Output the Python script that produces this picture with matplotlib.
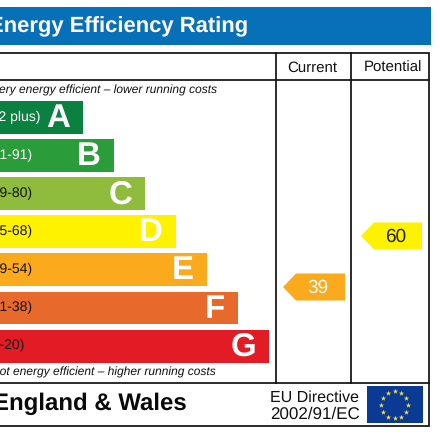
import numpy as np
import matplotlib
matplotlib.use("Agg")
import matplotlib.pyplot as plt
from matplotlib.patches import Polygon, Rectangle

letters = ["A", "B", "C", "D", "E", "F", "G"]
ranges = ["(92 plus)", "(81-91)", "(69-80)", "(55-68)", "(39-54)", "(21-38)", "(1-20)"]
bar_ends = [83, 114, 145, 176, 207, 238, 269]
range_ends = [40, 32, 32, 32, 32, 32, 24]
bar_colors = ["#0b8040", "#2a9c39", "#8fbc3d", "#fff200", "#fbaa1d", "#e8692c", "#e31b24"]
range_colors = ["white", "white", "#111111", "#111111", "#111111", "#111111", "#111111"]
current_value = 39
potential_value = 60

plt.rcParams["font.family"] = ["Liberation Sans", "DejaVu Sans"]
plt.rcParams["text.hinting"] = "no_hinting"
plt.rcParams["text.hinting_factor"] = 1
fig = plt.figure(figsize=(4.4, 4.4), dpi=100, facecolor="white")
ax = fig.add_axes([0, 0, 1, 1])
ax.set_xlim(0, 440)
ax.set_ylim(440, 0)
ax.axis("off")

# Header
ax.add_patch(Rectangle((0, 7), 431, 38, fc="#0870b8", ec="none"))
ax.text(248, 27, "Energy Efficiency Rating", color="white", fontsize=15.6,
        fontweight="bold", ha="right", va="center")

# Frame
lw = 1.25
col = "#111111"
ax.plot([-5, 428.7, 428.7, -5], [53, 53, 426.5, 426.5], color=col, lw=lw, solid_joinstyle="miter")
ax.plot([-5, 428.7], [80, 80], color=col, lw=lw)
ax.plot([-5, 428.7], [383, 383], color=col, lw=lw)
for x in (276, 351):
    ax.plot([x, x], [53, 383], color=col, lw=lw)
ax.text(312.5, 71.5, "Current", fontsize=11, ha="center", va="baseline", color=col)
ax.text(392.5, 71.5, "Potential", fontsize=11, ha="center", va="baseline", color=col)

# Bands
centers = 117.5 + 38.1 * np.arange(len(letters))
ax.barh(centers, bar_ends, height=32.8, color=bar_colors, left=0, lw=0)
for c, end, let, rng, rend, rc in zip(centers, bar_ends, letters, ranges, range_ends, range_colors):
    ax.text(end - 13, c + 1, let, color="white", fontsize=23.5, fontweight="bold",
            ha="right", va="center")
    ax.text(rend, c - 0.5, rng, color=rc, fontsize=10, ha="right", va="center")

ax.text(217, 90, "Very energy efficient \u2013 lower running costs", fontsize=8.6,
        style="italic", ha="right", va="center", color=col)
ax.text(216, 372.5, "Not energy efficient \u2013 higher running costs", fontsize=8.6,
        style="italic", ha="right", va="center", color=col)

# Rating arrows
def arrow(x0, x1, yc, color, value, tc):
    h = 13.5
    ax.add_patch(Polygon([(x0, yc), (x0 + 13, yc - h), (x1, yc - h), (x1, yc + h), (x0 + 13, yc + h)],
                         closed=True, fc=color, ec="none"))
    ax.text((x0 + x1) / 2 + 4, yc + 0.5, str(value), color=tc, fontsize=13.5, ha="center", va="center")

arrow(283, 345, 287, bar_colors[4], current_value, "white")
arrow(361, 422, 236, bar_colors[3], potential_value, "#222200")

# Footer
ax.text(187, 403.5, "England & Wales", fontsize=17.6, fontweight="bold", ha="right",
        va="center", color="#0a0a0a")
ax.text(270, 402, "EU Directive", fontsize=11.6, ha="left", va="baseline", color=col)
ax.text(270, 419, "2002/91/EC", fontsize=12, ha="left", va="baseline", color=col)

# EU flag
ax.add_patch(Rectangle((367, 386.5), 55.5, 37, fc="#0b3a94", ec="none"))
ang = np.deg2rad(np.arange(0, 360, 30))
ax.scatter(394.7 + 13.5 * np.cos(ang), 405 + 13.5 * np.sin(ang), marker="*", s=16,
           color="#f4e04a", lw=0)

fig.savefig("out.png", dpi=100, facecolor="white")
